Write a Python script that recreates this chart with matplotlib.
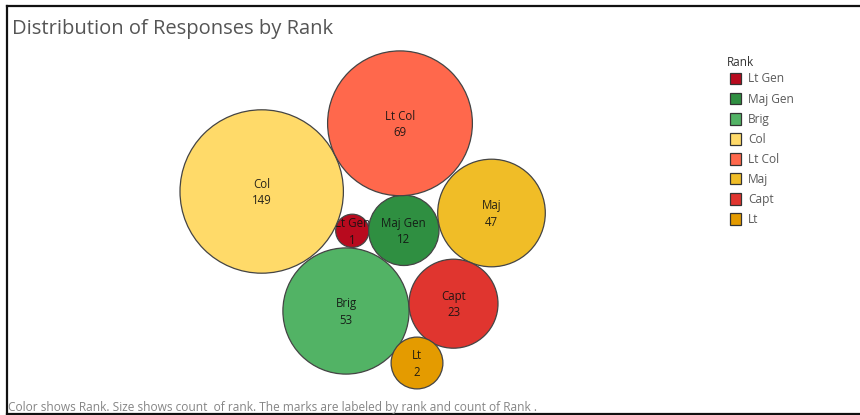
import numpy as np
import matplotlib
matplotlib.use("Agg")
import matplotlib.pyplot as plt
from matplotlib.patches import Circle, Rectangle
from matplotlib.lines import Line2D

# Response counts per rank
ranks = ["Lt Gen", "Maj Gen", "Brig", "Col", "Lt Col", "Maj", "Capt", "Lt"]
counts = [1, 12, 53, 149, 69, 47, 23, 2]
colors = ["#B80A1E", "#2F8F41", "#52B365", "#FFDA69", "#FF684C",
          "#F0BD27", "#E0352F", "#E49B00"]

# Packed-bubble layout (pixel space of the canvas)
centers = [(352.3, 230.8), (403.8, 230.3), (346.0, 311.0), (261.7, 191.5),
           (400.0, 123.3), (491.5, 213.0), (453.5, 303.7), (417.0, 363.0)]
r_min, r_step = 16.6, 9.3

W, H = 860, 415
fig = plt.figure(figsize=(W / 100, H / 100), dpi=100)
ax = fig.add_axes([0, 0, 1, 1])
ax.set_xlim(0, W)
ax.set_ylim(H, 0)
ax.axis("off")

font = "Open Sans"

# bubble radius follows the size order of the counts; each bubble (and its
# label) is stacked above the previous one
order = np.argsort(np.argsort(counts))
for i, (name, n, col, (cx, cy), k) in enumerate(
        zip(ranks, counts, colors, centers, order)):
    r = r_min + r_step * k
    ax.add_patch(Circle((cx, cy), r, facecolor=col, edgecolor="#444444",
                        linewidth=0.9, zorder=2 + 2 * i))
    ax.text(cx, cy + 1, f"{name}\n{n}", ha="center", va="center",
            fontsize=8.3, family=font, color="#111111", alpha=0.9,
            linespacing=1.35, zorder=3 + 2 * i)

# title
ax.text(12, 29, "Distribution of Responses by Rank", ha="left", va="center",
        fontsize=14.5, family=font, color="#555555")

# legend
ax.text(727, 62, "Rank", ha="left", va="center", fontsize=8.5,
        family=font, color="#333333")
for i, (name, col) in enumerate(zip(ranks, colors)):
    y = 79 + 20 * i
    ax.add_patch(Rectangle((729.5, y - 6), 11.5, 11.5, facecolor=col,
                           edgecolor="#333333", linewidth=0.9))
    ax.text(748, y, name, ha="left", va="center", fontsize=8.6,
            family=font, color="#5a5a5a")

# footer caption
ax.text(8, 407, "Color shows Rank. Size shows count  of rank. "
        "The marks are labeled by rank and count of Rank .",
        ha="left", va="center", fontsize=8.55, family=font, color="#858585")

# worksheet frame
for xs, ys in [((7, 7), (6, 414)), ((7, W), (6, 6)), ((7, W), (414, 414))]:
    ax.add_line(Line2D(xs, ys, color="#111111", linewidth=1.6))

fig.savefig("out.png", dpi=100)
